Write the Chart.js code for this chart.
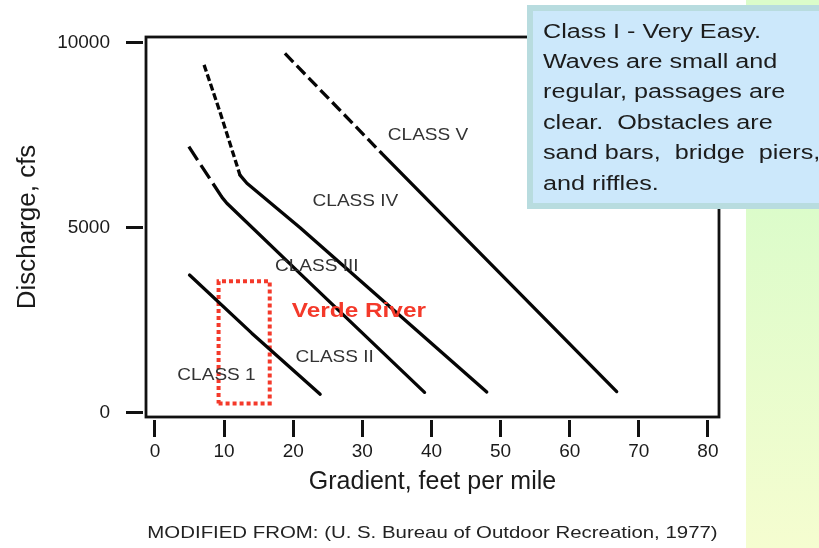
<!DOCTYPE html>
<html>
<head>
<meta charset="utf-8">
<script src="https://cdn.jsdelivr.net/npm/chart.js@4/dist/chart.umd.min.js"></script>
<style>
  html, body { margin: 0; padding: 0; background: #fff; }
  canvas { display: block; }
</style>
</head>
<body>
<canvas id="chart" width="819" height="548"></canvas>
<script>
// Class boundary curves: gradient (feet per mile) vs. discharge (cfs)
const classIBoundaryGradient = [5.0, 14.0, 23.9];
const classIBoundaryDischarge = [3720, 2150, 500];

const classIIBoundaryDashGradient = [4.9, 9.7];
const classIIBoundaryDashDischarge = [7190, 5820];
const classIIBoundaryGradient = [9.7, 10.4, 21.0, 39.0];
const classIIBoundaryDischarge = [5820, 5660, 3760, 550];

const classIIIBoundaryDashGradient = [7.1, 9.4, 12.3];
const classIIIBoundaryDashDischarge = [9400, 8130, 6420];
const classIIIBoundaryGradient = [12.3, 13.3, 21.0, 48.0];
const classIIIBoundaryDischarge = [6420, 6200, 5000, 560];

const classIVBoundaryDashGradient = [18.8, 32.8];
const classIVBoundaryDashDischarge = [9710, 7010];
const classIVBoundaryGradient = [32.8, 66.8];
const classIVBoundaryDischarge = [7010, 570];

// Verde River reach (gradient and discharge ranges)
const verdeGradient = [9.2, 16.6];
const verdeDischarge = [250, 3550];

// Region labels
const classNames = ['CLASS 1', 'CLASS II', 'CLASS III', 'CLASS IV', 'CLASS V'];
const classLabelGradient = [8.9, 26.0, 23.4, 29.0, 39.5];
const classLabelDischarge = [1020, 1510, 3950, 5720, 7500];
const riverName = 'Verde River';
const riverLabelGradient = 29.5;
const riverLabelDischarge = 2730;

// Axis ticks
const xTickValues = [0, 10, 20, 30, 40, 50, 60, 70, 80];
const yTickValues = [0, 5000, 10000];

const noteLines = [
  'Class I - Very Easy.',
  'Waves are small and',
  'regular, passages are',
  'clear.  Obstacles are',
  'sand bars,  bridge  piers,',
  'and riffles.'
];
const sourceNote = 'MODIFIED FROM: (U. S. Bureau of Outdoor Recreation, 1977)';

const FONT = '"Liberation Sans", Arial, Helvetica, sans-serif';

function toPoints(xs, ys) {
  return xs.map((x, i) => ({ x: x, y: ys[i] }));
}

function boundary(xs, ys, dash) {
  return {
    data: toPoints(xs, ys),
    showLine: true,
    borderColor: '#050505',
    borderWidth: 3.3,
    borderDash: dash || [],
    borderCapStyle: dash ? 'butt' : 'round',
    borderJoinStyle: 'round',
    pointRadius: 0,
    tension: 0,
    fill: false
  };
}

const verdeBox = {
  data: [
    { x: verdeGradient[0], y: verdeDischarge[0] },
    { x: verdeGradient[1], y: verdeDischarge[0] },
    { x: verdeGradient[1], y: verdeDischarge[1] },
    { x: verdeGradient[0], y: verdeDischarge[1] },
    { x: verdeGradient[0], y: verdeDischarge[0] }
  ],
  showLine: true,
  borderColor: '#f4392a',
  borderWidth: 4,
  borderDash: [4, 3],
  borderCapStyle: 'butt',
  pointRadius: 0,
  tension: 0,
  fill: false
};

function stretchedText(ctx, text, x, y, sx, align) {
  ctx.save();
  ctx.translate(x, y);
  ctx.scale(sx, 1);
  ctx.textAlign = align;
  ctx.textBaseline = 'middle';
  ctx.fillText(text, 0, 0);
  ctx.restore();
}

const decorations = {
  id: 'decorations',
  beforeDraw(chart) {
    const { ctx, width, height } = chart;
    ctx.save();
    ctx.fillStyle = '#ffffff';
    ctx.fillRect(0, 0, width, height);
    const g = ctx.createLinearGradient(0, 200, 0, height);
    g.addColorStop(0, '#dbfcca');
    g.addColorStop(1, '#f5fdd0');
    ctx.fillStyle = g;
    ctx.fillRect(746, 0, width - 746, height);
    ctx.restore();
  },
  afterDatasetsDraw(chart) {
    const { ctx, chartArea: a, scales } = chart;
    ctx.save();
    // plot frame
    ctx.strokeStyle = '#111';
    ctx.lineWidth = 2.8;
    ctx.strokeRect(a.left, a.top, a.right - a.left, a.bottom - a.top);

    // class region labels
    ctx.fillStyle = '#333';
    ctx.font = '17px ' + FONT;
    classNames.forEach((name, i) => {
      stretchedText(ctx, name,
        scales.x.getPixelForValue(classLabelGradient[i]),
        scales.y.getPixelForValue(classLabelDischarge[i]), 1.12, 'center');
    });

    // river label
    ctx.fillStyle = '#f4392a';
    ctx.font = 'bold 21px ' + FONT;
    stretchedText(ctx, riverName,
      scales.x.getPixelForValue(riverLabelGradient),
      scales.y.getPixelForValue(riverLabelDischarge), 1.16, 'center');
    ctx.restore();
  },
  afterDraw(chart) {
    const { ctx, chartArea: a } = chart;
    ctx.save();
    // description box
    ctx.fillStyle = '#cce8fb';
    ctx.fillRect(527, 5, 300, 204);
    ctx.strokeStyle = '#b8dcdf';
    ctx.lineWidth = 6;
    ctx.strokeRect(530, 8, 300, 198);
    ctx.fillStyle = '#1c1c1c';
    ctx.font = '20px ' + FONT;
    noteLines.forEach((line, i) => {
      stretchedText(ctx, line, 543, 32 + i * 30.4, 1.26, 'left');
    });

    // source note
    ctx.fillStyle = '#222';
    ctx.font = '17px ' + FONT;
    stretchedText(ctx, sourceNote, (a.left + a.right) / 2, 533, 1.20, 'center');
    ctx.restore();
  }
};

new Chart(document.getElementById('chart'), {
  type: 'scatter',
  data: {
    datasets: [
      boundary(classIBoundaryGradient, classIBoundaryDischarge),
      boundary(classIIBoundaryDashGradient, classIIBoundaryDashDischarge, [16, 6]),
      boundary(classIIBoundaryGradient, classIIBoundaryDischarge),
      boundary(classIIIBoundaryDashGradient, classIIIBoundaryDashDischarge, [7, 3]),
      boundary(classIIIBoundaryGradient, classIIIBoundaryDischarge),
      boundary(classIVBoundaryDashGradient, classIVBoundaryDashDischarge, [12, 5]),
      boundary(classIVBoundaryGradient, classIVBoundaryDischarge),
      verdeBox
    ]
  },
  options: {
    responsive: false,
    animation: false,
    events: [],
    layout: { padding: { left: 0, top: 37, right: 100, bottom: 0 } },
    plugins: { legend: { display: false }, tooltip: { enabled: false } },
    scales: {
      x: {
        type: 'linear',
        min: -1.3,
        max: 81.6,
        afterBuildTicks: s => { s.ticks = xTickValues.map(v => ({ value: v })); },
        afterFit: s => { s.height = 131; },
        border: { display: false },
        grid: {
          drawOnChartArea: false,
          drawTicks: true,
          tickLength: 20,
          tickWidth: 3,
          tickColor: '#111',
          tickBorderDash: [0, 3, 17, 40]
        },
        ticks: {
          color: '#1a1a1a',
          font: { family: FONT, size: 19 },
          padding: 3,
          maxRotation: 0,
          autoSkip: false,
          callback: v => String(v)
        },
        title: {
          display: true,
          text: 'Gradient, feet per mile',
          color: '#1a1a1a',
          font: { family: FONT, size: 25 },
          padding: { top: 0, bottom: 51 }
        }
      },
      y: {
        type: 'linear',
        min: -116,
        max: 10154,
        afterBuildTicks: s => { s.ticks = yTickValues.map(v => ({ value: v })); },
        afterFit: s => { s.width = 146; },
        border: { display: false },
        grid: {
          drawOnChartArea: false,
          drawTicks: true,
          tickLength: 20,
          tickWidth: 3,
          tickColor: '#111',
          tickBorderDash: [17, 40]
        },
        ticks: {
          color: '#1a1a1a',
          font: { family: FONT, size: 19 },
          padding: 16,
          callback: v => String(v)
        },
        title: {
          display: true,
          text: 'Discharge, cfs',
          color: '#1a1a1a',
          font: { family: FONT, size: 26 },
          padding: { top: 12, bottom: 0 }
        }
      }
    }
  },
  plugins: [decorations]
});
</script>
</body>
</html>
